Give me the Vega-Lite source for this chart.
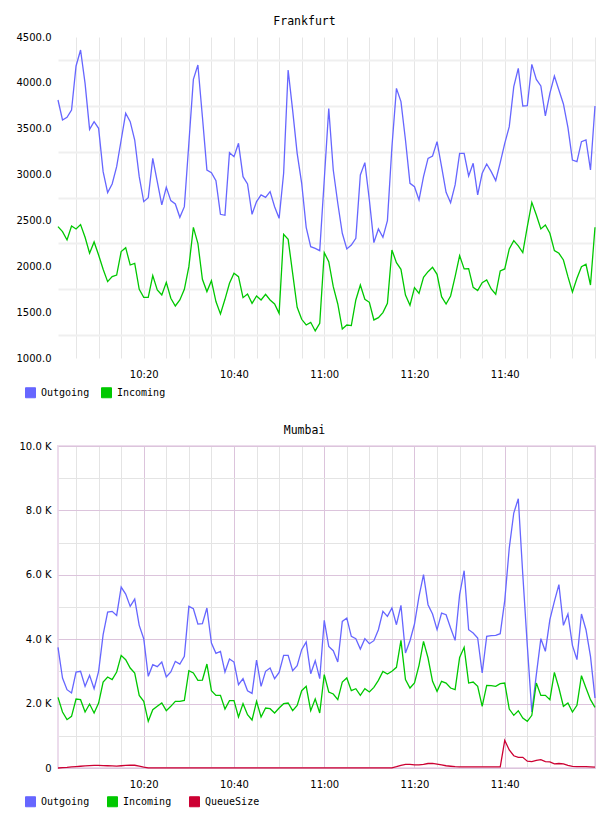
{
  "$schema": "https://vega.github.io/schema/vega-lite/v6.json",
  "background": "white",
  "padding": {"left": 7, "top": 15, "right": 14, "bottom": 0},
  "spacing": 23,
  "config": {
    "font": "DejaVu Sans",
    "view": {"stroke": null},
    "axis": {"labelFont": "DejaVu Sans", "labelFontSize": 10, "labelColor": "#000000", "domain": false, "ticks": false, "labelOverlap": false, "labelFlush": false},
    "title": {"font": "DejaVu Sans Mono", "fontSize": 11.5, "fontWeight": "normal", "color": "#000000", "anchor": "middle", "offset": 5, "dx": -22},
    "legend": {"symbolType": "square", "symbolSize": 100, "labelFont": "DejaVu Sans Mono", "labelFontSize": 10, "labelColor": "#000000", "labelOffset": 5, "columnPadding": 9, "gridAlign": "all", "padding": 0}
  },
  "resolve": {"scale": {"y": "independent", "color": "independent"}, "legend": {"color": "independent"}},
  "vconcat": [
    {
      "title": "Frankfurt",
      "width": 537,
      "height": 321,
      "data": {
        "values": [
          {"min": 1, "Outgoing": 3813, "Incoming": 2432},
          {"min": 2, "Outgoing": 3595, "Incoming": 2378},
          {"min": 3, "Outgoing": 3624, "Incoming": 2287},
          {"min": 4, "Outgoing": 3704, "Incoming": 2440},
          {"min": 5, "Outgoing": 4184, "Incoming": 2407},
          {"min": 6, "Outgoing": 4358, "Incoming": 2454},
          {"min": 7, "Outgoing": 3995, "Incoming": 2316},
          {"min": 8, "Outgoing": 3493, "Incoming": 2142},
          {"min": 9, "Outgoing": 3577, "Incoming": 2265},
          {"min": 10, "Outgoing": 3504, "Incoming": 2123},
          {"min": 11, "Outgoing": 3032, "Incoming": 1967},
          {"min": 12, "Outgoing": 2803, "Incoming": 1833},
          {"min": 13, "Outgoing": 2897, "Incoming": 1887},
          {"min": 14, "Outgoing": 3086, "Incoming": 1905},
          {"min": 15, "Outgoing": 3377, "Incoming": 2160},
          {"min": 16, "Outgoing": 3668, "Incoming": 2203},
          {"min": 17, "Outgoing": 3577, "Incoming": 2014},
          {"min": 18, "Outgoing": 3377, "Incoming": 2032},
          {"min": 19, "Outgoing": 2977, "Incoming": 1749},
          {"min": 20, "Outgoing": 2705, "Incoming": 1662},
          {"min": 21, "Outgoing": 2748, "Incoming": 1662},
          {"min": 22, "Outgoing": 3177, "Incoming": 1898},
          {"min": 23, "Outgoing": 2923, "Incoming": 1742},
          {"min": 24, "Outgoing": 2669, "Incoming": 1687},
          {"min": 25, "Outgoing": 2861, "Incoming": 1825},
          {"min": 26, "Outgoing": 2716, "Incoming": 1651},
          {"min": 27, "Outgoing": 2680, "Incoming": 1567},
          {"min": 28, "Outgoing": 2534, "Incoming": 1633},
          {"min": 29, "Outgoing": 2650, "Incoming": 1749},
          {"min": 30, "Outgoing": 3341, "Incoming": 1996},
          {"min": 31, "Outgoing": 4038, "Incoming": 2425},
          {"min": 32, "Outgoing": 4195, "Incoming": 2251},
          {"min": 33, "Outgoing": 3630, "Incoming": 1858},
          {"min": 34, "Outgoing": 3050, "Incoming": 1724},
          {"min": 35, "Outgoing": 3021, "Incoming": 1843},
          {"min": 36, "Outgoing": 2934, "Incoming": 1615},
          {"min": 37, "Outgoing": 2567, "Incoming": 1480},
          {"min": 38, "Outgoing": 2556, "Incoming": 1640},
          {"min": 39, "Outgoing": 3239, "Incoming": 1814},
          {"min": 40, "Outgoing": 3195, "Incoming": 1923},
          {"min": 41, "Outgoing": 3341, "Incoming": 1887},
          {"min": 42, "Outgoing": 2977, "Incoming": 1658},
          {"min": 43, "Outgoing": 2897, "Incoming": 1698},
          {"min": 44, "Outgoing": 2567, "Incoming": 1596},
          {"min": 45, "Outgoing": 2705, "Incoming": 1676},
          {"min": 46, "Outgoing": 2778, "Incoming": 1633},
          {"min": 47, "Outgoing": 2752, "Incoming": 1695},
          {"min": 48, "Outgoing": 2814, "Incoming": 1633},
          {"min": 49, "Outgoing": 2650, "Incoming": 1589},
          {"min": 50, "Outgoing": 2523, "Incoming": 1487},
          {"min": 51, "Outgoing": 3014, "Incoming": 2349},
          {"min": 52, "Outgoing": 4140, "Incoming": 2294},
          {"min": 53, "Outgoing": 3700, "Incoming": 1923},
          {"min": 54, "Outgoing": 3232, "Incoming": 1553},
          {"min": 55, "Outgoing": 2905, "Incoming": 1422},
          {"min": 56, "Outgoing": 2425, "Incoming": 1360},
          {"min": 57, "Outgoing": 2214, "Incoming": 1389},
          {"min": 58, "Outgoing": 2196, "Incoming": 1295},
          {"min": 59, "Outgoing": 2171, "Incoming": 1378},
          {"min": 60, "Outgoing": 2941, "Incoming": 2149},
          {"min": 61, "Outgoing": 3719, "Incoming": 2051},
          {"min": 62, "Outgoing": 3050, "Incoming": 1778},
          {"min": 63, "Outgoing": 2687, "Incoming": 1589},
          {"min": 64, "Outgoing": 2360, "Incoming": 1316},
          {"min": 65, "Outgoing": 2189, "Incoming": 1360},
          {"min": 66, "Outgoing": 2232, "Incoming": 1353},
          {"min": 67, "Outgoing": 2305, "Incoming": 1633},
          {"min": 68, "Outgoing": 2996, "Incoming": 1796},
          {"min": 69, "Outgoing": 3130, "Incoming": 1640},
          {"min": 70, "Outgoing": 2723, "Incoming": 1607},
          {"min": 71, "Outgoing": 2258, "Incoming": 1415},
          {"min": 72, "Outgoing": 2407, "Incoming": 1440},
          {"min": 73, "Outgoing": 2316, "Incoming": 1495},
          {"min": 74, "Outgoing": 2498, "Incoming": 1596},
          {"min": 75, "Outgoing": 3304, "Incoming": 2178},
          {"min": 76, "Outgoing": 3940, "Incoming": 2040},
          {"min": 77, "Outgoing": 3795, "Incoming": 1967},
          {"min": 78, "Outgoing": 3377, "Incoming": 1687},
          {"min": 79, "Outgoing": 2905, "Incoming": 1575},
          {"min": 80, "Outgoing": 2868, "Incoming": 1767},
          {"min": 81, "Outgoing": 2723, "Incoming": 1705},
          {"min": 82, "Outgoing": 2977, "Incoming": 1880},
          {"min": 83, "Outgoing": 3177, "Incoming": 1941},
          {"min": 84, "Outgoing": 3203, "Incoming": 1989},
          {"min": 85, "Outgoing": 3359, "Incoming": 1912},
          {"min": 86, "Outgoing": 3086, "Incoming": 1669},
          {"min": 87, "Outgoing": 2807, "Incoming": 1589},
          {"min": 88, "Outgoing": 2694, "Incoming": 1676},
          {"min": 89, "Outgoing": 2887, "Incoming": 1887},
          {"min": 90, "Outgoing": 3232, "Incoming": 2116},
          {"min": 91, "Outgoing": 3232, "Incoming": 1971},
          {"min": 92, "Outgoing": 2985, "Incoming": 1974},
          {"min": 93, "Outgoing": 3123, "Incoming": 1771},
          {"min": 94, "Outgoing": 2778, "Incoming": 1735},
          {"min": 95, "Outgoing": 3014, "Incoming": 1822},
          {"min": 96, "Outgoing": 3115, "Incoming": 1851},
          {"min": 97, "Outgoing": 3032, "Incoming": 1753},
          {"min": 98, "Outgoing": 2934, "Incoming": 1695},
          {"min": 99, "Outgoing": 3130, "Incoming": 1949},
          {"min": 100, "Outgoing": 3341, "Incoming": 1971},
          {"min": 101, "Outgoing": 3522, "Incoming": 2189},
          {"min": 102, "Outgoing": 3959, "Incoming": 2280},
          {"min": 103, "Outgoing": 4158, "Incoming": 2222},
          {"min": 104, "Outgoing": 3748, "Incoming": 2149},
          {"min": 105, "Outgoing": 3751, "Incoming": 2432},
          {"min": 106, "Outgoing": 4202, "Incoming": 2697},
          {"min": 107, "Outgoing": 4038, "Incoming": 2560},
          {"min": 108, "Outgoing": 3966, "Incoming": 2407},
          {"min": 109, "Outgoing": 3639, "Incoming": 2450},
          {"min": 110, "Outgoing": 3886, "Incoming": 2360},
          {"min": 111, "Outgoing": 4075, "Incoming": 2171},
          {"min": 112, "Outgoing": 3922, "Incoming": 2142},
          {"min": 113, "Outgoing": 3770, "Incoming": 2069},
          {"min": 114, "Outgoing": 3515, "Incoming": 1887},
          {"min": 115, "Outgoing": 3159, "Incoming": 1720},
          {"min": 116, "Outgoing": 3141, "Incoming": 1869},
          {"min": 117, "Outgoing": 3359, "Incoming": 1996},
          {"min": 118, "Outgoing": 3377, "Incoming": 2022},
          {"min": 119, "Outgoing": 3050, "Incoming": 1796},
          {"min": 120, "Outgoing": 3748, "Incoming": 2425}
        ]
      },
      "transform": [{"fold": ["Outgoing", "Incoming"], "as": ["series", "value"]}],
      "mark": {"type": "line", "strokeWidth": 1.3},
      "encoding": {
        "x": {
          "field": "min", "type": "quantitative", "title": null,
          "scale": {"domain": [1, 120], "nice": false, "zero": false},
          "axis": {
            "values": [5, 10, 15, 20, 25, 30, 35, 40, 45, 50, 55, 60, 65, 70, 75, 80, 85, 90, 95, 100, 105, 110, 115, 120],
            "labelExpr": "datum.value % 20 === 0 && datum.value < 120 ? (10 + floor(datum.value / 60)) + ':' + (datum.value % 60 === 0 ? '00' : '' + (datum.value % 60)) : ''",
            "labelPadding": 11,
            "gridColor": "#e6e6e6",
            "gridWidth": 1
          }
        },
        "y": {
          "field": "value", "type": "quantitative", "title": null,
          "scale": {"domain": [1000, 4500], "nice": false, "zero": false},
          "axis": {
            "values": [1000, 1250, 1500, 1750, 2000, 2250, 2500, 2750, 3000, 3250, 3500, 3750, 4000, 4250, 4500],
            "labelExpr": "datum.value % 500 === 0 ? format(datum.value, '.1f') : ''",
            "labelPadding": 7,
            "minExtent": 50,
            "maxExtent": 50,
            "gridColor": "#efefef",
            "gridWidth": 2,
            "gridOpacity": {"condition": {"test": "datum.value % 500 === 0", "value": 0}, "value": 1}
          }
        },
        "color": {
          "field": "series", "type": "nominal",
          "scale": {"domain": ["Outgoing", "Incoming"], "range": ["#6666ff", "#00c800"]},
          "legend": {
            "title": null, "orient": "none", "direction": "horizontal",
            "legendX": -33, "legendY": 350,
            "encode": {"symbols": {"update": {
              "fill": {"signal": "datum.value === 'Outgoing' ? '#6666ff' : '#00c800'"},
              "stroke": {"value": "#999999"},
              "strokeWidth": {"value": 1},
              "opacity": {"value": 1}
            }}}
          }
        }
      }
    },
    {
      "title": "Mumbai",
      "width": 537,
      "height": 322,
      "view": {"stroke": "#ecdcec", "strokeWidth": 2},
      "data": {
        "values": [
          {"min": 1, "Outgoing": 3747, "Incoming": 2194, "QueueSize": 0},
          {"min": 2, "Outgoing": 2795, "Incoming": 1739, "QueueSize": 10},
          {"min": 3, "Outgoing": 2432, "Incoming": 1501, "QueueSize": 20},
          {"min": 4, "Outgoing": 2329, "Incoming": 1604, "QueueSize": 35},
          {"min": 5, "Outgoing": 2981, "Incoming": 2142, "QueueSize": 45},
          {"min": 6, "Outgoing": 3002, "Incoming": 2122, "QueueSize": 55},
          {"min": 7, "Outgoing": 2536, "Incoming": 1739, "QueueSize": 65},
          {"min": 8, "Outgoing": 2877, "Incoming": 1987, "QueueSize": 75},
          {"min": 9, "Outgoing": 2463, "Incoming": 1708, "QueueSize": 80},
          {"min": 10, "Outgoing": 3002, "Incoming": 2018, "QueueSize": 80},
          {"min": 11, "Outgoing": 4140, "Incoming": 2670, "QueueSize": 75},
          {"min": 12, "Outgoing": 4844, "Incoming": 2826, "QueueSize": 70},
          {"min": 13, "Outgoing": 4865, "Incoming": 2743, "QueueSize": 65},
          {"min": 14, "Outgoing": 4740, "Incoming": 2981, "QueueSize": 60},
          {"min": 15, "Outgoing": 5620, "Incoming": 3498, "QueueSize": 70},
          {"min": 16, "Outgoing": 5403, "Incoming": 3364, "QueueSize": 80},
          {"min": 17, "Outgoing": 5020, "Incoming": 3105, "QueueSize": 90},
          {"min": 18, "Outgoing": 5247, "Incoming": 2950, "QueueSize": 85},
          {"min": 19, "Outgoing": 4430, "Incoming": 2256, "QueueSize": 60},
          {"min": 20, "Outgoing": 4016, "Incoming": 2070, "QueueSize": 30},
          {"min": 21, "Outgoing": 2846, "Incoming": 1449, "QueueSize": 5},
          {"min": 22, "Outgoing": 3209, "Incoming": 1811, "QueueSize": 3},
          {"min": 23, "Outgoing": 3146, "Incoming": 1915, "QueueSize": 3},
          {"min": 24, "Outgoing": 3291, "Incoming": 2018, "QueueSize": 3},
          {"min": 25, "Outgoing": 2826, "Incoming": 1780, "QueueSize": 3},
          {"min": 26, "Outgoing": 2981, "Incoming": 1915, "QueueSize": 3},
          {"min": 27, "Outgoing": 3312, "Incoming": 2070, "QueueSize": 3},
          {"min": 28, "Outgoing": 3229, "Incoming": 2070, "QueueSize": 3},
          {"min": 29, "Outgoing": 3467, "Incoming": 2101, "QueueSize": 3},
          {"min": 30, "Outgoing": 5020, "Incoming": 3022, "QueueSize": 3},
          {"min": 31, "Outgoing": 4947, "Incoming": 2950, "QueueSize": 3},
          {"min": 32, "Outgoing": 4471, "Incoming": 2722, "QueueSize": 3},
          {"min": 33, "Outgoing": 4482, "Incoming": 2732, "QueueSize": 3},
          {"min": 34, "Outgoing": 4968, "Incoming": 3229, "QueueSize": 3},
          {"min": 35, "Outgoing": 3881, "Incoming": 2401, "QueueSize": 3},
          {"min": 36, "Outgoing": 3560, "Incoming": 2256, "QueueSize": 3},
          {"min": 37, "Outgoing": 3623, "Incoming": 2256, "QueueSize": 3},
          {"min": 38, "Outgoing": 2981, "Incoming": 1832, "QueueSize": 3},
          {"min": 39, "Outgoing": 3384, "Incoming": 2091, "QueueSize": 3},
          {"min": 40, "Outgoing": 3291, "Incoming": 2091, "QueueSize": 3},
          {"min": 41, "Outgoing": 2588, "Incoming": 1584, "QueueSize": 3},
          {"min": 42, "Outgoing": 2774, "Incoming": 1998, "QueueSize": 3},
          {"min": 43, "Outgoing": 2401, "Incoming": 1656, "QueueSize": 3},
          {"min": 44, "Outgoing": 2318, "Incoming": 1490, "QueueSize": 3},
          {"min": 45, "Outgoing": 3353, "Incoming": 2070, "QueueSize": 3},
          {"min": 46, "Outgoing": 2536, "Incoming": 1584, "QueueSize": 3},
          {"min": 47, "Outgoing": 3002, "Incoming": 1863, "QueueSize": 3},
          {"min": 48, "Outgoing": 3105, "Incoming": 1842, "QueueSize": 3},
          {"min": 49, "Outgoing": 2774, "Incoming": 1708, "QueueSize": 3},
          {"min": 50, "Outgoing": 2970, "Incoming": 1863, "QueueSize": 3},
          {"min": 51, "Outgoing": 3498, "Incoming": 1998, "QueueSize": 3},
          {"min": 52, "Outgoing": 3498, "Incoming": 2018, "QueueSize": 3},
          {"min": 53, "Outgoing": 3022, "Incoming": 1780, "QueueSize": 3},
          {"min": 54, "Outgoing": 3177, "Incoming": 1946, "QueueSize": 3},
          {"min": 55, "Outgoing": 3674, "Incoming": 2401, "QueueSize": 3},
          {"min": 56, "Outgoing": 3912, "Incoming": 2536, "QueueSize": 3},
          {"min": 57, "Outgoing": 2929, "Incoming": 1780, "QueueSize": 3},
          {"min": 58, "Outgoing": 3333, "Incoming": 2142, "QueueSize": 3},
          {"min": 59, "Outgoing": 2774, "Incoming": 1708, "QueueSize": 3},
          {"min": 60, "Outgoing": 4585, "Incoming": 2898, "QueueSize": 3},
          {"min": 61, "Outgoing": 3778, "Incoming": 2360, "QueueSize": 3},
          {"min": 62, "Outgoing": 3643, "Incoming": 2298, "QueueSize": 3},
          {"min": 63, "Outgoing": 3291, "Incoming": 2122, "QueueSize": 3},
          {"min": 64, "Outgoing": 4554, "Incoming": 2670, "QueueSize": 3},
          {"min": 65, "Outgoing": 4657, "Incoming": 2795, "QueueSize": 3},
          {"min": 66, "Outgoing": 4088, "Incoming": 2401, "QueueSize": 3},
          {"min": 67, "Outgoing": 4016, "Incoming": 2463, "QueueSize": 3},
          {"min": 68, "Outgoing": 3695, "Incoming": 2256, "QueueSize": 3},
          {"min": 69, "Outgoing": 4016, "Incoming": 2463, "QueueSize": 3},
          {"min": 70, "Outgoing": 3860, "Incoming": 2360, "QueueSize": 3},
          {"min": 71, "Outgoing": 3954, "Incoming": 2505, "QueueSize": 3},
          {"min": 72, "Outgoing": 4295, "Incoming": 2722, "QueueSize": 3},
          {"min": 73, "Outgoing": 4865, "Incoming": 3002, "QueueSize": 3},
          {"min": 74, "Outgoing": 4709, "Incoming": 2919, "QueueSize": 3},
          {"min": 75, "Outgoing": 4968, "Incoming": 3002, "QueueSize": 5},
          {"min": 76, "Outgoing": 4450, "Incoming": 3126, "QueueSize": 40},
          {"min": 77, "Outgoing": 5051, "Incoming": 3964, "QueueSize": 80},
          {"min": 78, "Outgoing": 3570, "Incoming": 2743, "QueueSize": 110},
          {"min": 79, "Outgoing": 3954, "Incoming": 2484, "QueueSize": 110},
          {"min": 80, "Outgoing": 4471, "Incoming": 2639, "QueueSize": 100},
          {"min": 81, "Outgoing": 5330, "Incoming": 3188, "QueueSize": 95},
          {"min": 82, "Outgoing": 6003, "Incoming": 3933, "QueueSize": 110},
          {"min": 83, "Outgoing": 5071, "Incoming": 3416, "QueueSize": 140},
          {"min": 84, "Outgoing": 4782, "Incoming": 2691, "QueueSize": 145},
          {"min": 85, "Outgoing": 4295, "Incoming": 2381, "QueueSize": 120},
          {"min": 86, "Outgoing": 4813, "Incoming": 2691, "QueueSize": 95},
          {"min": 87, "Outgoing": 4761, "Incoming": 2639, "QueueSize": 70},
          {"min": 88, "Outgoing": 4347, "Incoming": 2484, "QueueSize": 55},
          {"min": 89, "Outgoing": 3964, "Incoming": 2432, "QueueSize": 40},
          {"min": 90, "Outgoing": 5382, "Incoming": 3436, "QueueSize": 35},
          {"min": 91, "Outgoing": 6127, "Incoming": 3747, "QueueSize": 35},
          {"min": 92, "Outgoing": 4295, "Incoming": 2639, "QueueSize": 35},
          {"min": 93, "Outgoing": 4192, "Incoming": 2670, "QueueSize": 35},
          {"min": 94, "Outgoing": 4037, "Incoming": 2536, "QueueSize": 35},
          {"min": 95, "Outgoing": 2950, "Incoming": 1915, "QueueSize": 35},
          {"min": 96, "Outgoing": 4088, "Incoming": 2567, "QueueSize": 35},
          {"min": 97, "Outgoing": 4109, "Incoming": 2556, "QueueSize": 35},
          {"min": 98, "Outgoing": 4119, "Incoming": 2536, "QueueSize": 35},
          {"min": 99, "Outgoing": 4171, "Incoming": 2619, "QueueSize": 35},
          {"min": 100, "Outgoing": 5200, "Incoming": 2639, "QueueSize": 860},
          {"min": 101, "Outgoing": 6831, "Incoming": 1832, "QueueSize": 560},
          {"min": 102, "Outgoing": 7918, "Incoming": 1635, "QueueSize": 380},
          {"min": 103, "Outgoing": 8363, "Incoming": 1780, "QueueSize": 330},
          {"min": 104, "Outgoing": 6000, "Incoming": 1553, "QueueSize": 330},
          {"min": 105, "Outgoing": 3800, "Incoming": 1449, "QueueSize": 210},
          {"min": 106, "Outgoing": 1739, "Incoming": 1635, "QueueSize": 200},
          {"min": 107, "Outgoing": 2898, "Incoming": 2639, "QueueSize": 240},
          {"min": 108, "Outgoing": 4016, "Incoming": 2256, "QueueSize": 260},
          {"min": 109, "Outgoing": 3623, "Incoming": 2256, "QueueSize": 200},
          {"min": 110, "Outgoing": 4606, "Incoming": 2122, "QueueSize": 190},
          {"min": 111, "Outgoing": 5175, "Incoming": 2970, "QueueSize": 130},
          {"min": 112, "Outgoing": 5693, "Incoming": 2484, "QueueSize": 140},
          {"min": 113, "Outgoing": 4430, "Incoming": 1915, "QueueSize": 130},
          {"min": 114, "Outgoing": 4782, "Incoming": 2018, "QueueSize": 80},
          {"min": 115, "Outgoing": 3809, "Incoming": 1739, "QueueSize": 50},
          {"min": 116, "Outgoing": 3364, "Incoming": 1946, "QueueSize": 40},
          {"min": 117, "Outgoing": 4782, "Incoming": 2867, "QueueSize": 40},
          {"min": 118, "Outgoing": 4295, "Incoming": 2484, "QueueSize": 40},
          {"min": 119, "Outgoing": 3467, "Incoming": 2122, "QueueSize": 35},
          {"min": 120, "Outgoing": 2174, "Incoming": 1884, "QueueSize": 30}
        ]
      },
      "transform": [{"fold": ["Outgoing", "Incoming", "QueueSize"], "as": ["series", "value"]}],
      "mark": {"type": "line", "strokeWidth": 1.3},
      "encoding": {
        "x": {
          "field": "min", "type": "quantitative", "title": null,
          "scale": {"domain": [1, 120], "nice": false, "zero": false},
          "axis": {
            "values": [5, 10, 15, 20, 25, 30, 35, 40, 45, 50, 55, 60, 65, 70, 75, 80, 85, 90, 95, 100, 105, 110, 115, 120],
            "labelExpr": "datum.value % 20 === 0 && datum.value < 120 ? (10 + floor(datum.value / 60)) + ':' + (datum.value % 60 === 0 ? '00' : '' + (datum.value % 60)) : ''",
            "labelPadding": 11,
            "gridColor": {"condition": {"test": "datum.value % 20 === 0", "value": "#dcc4dc"}, "value": "#e4e4e4"},
            "gridWidth": 1
          }
        },
        "y": {
          "field": "value", "type": "quantitative", "title": null,
          "scale": {"domain": [0, 10000], "nice": false},
          "axis": {
            "values": [0, 1000, 2000, 3000, 4000, 5000, 6000, 7000, 8000, 9000, 10000],
            "labelExpr": "datum.value % 2000 !== 0 ? '' : datum.value === 0 ? '0' : format(datum.value / 1000, '.1f') + ' K'",
            "labelPadding": 7,
            "minExtent": 50,
            "maxExtent": 50,
            "gridColor": {"condition": {"test": "datum.value % 2000 === 0", "value": "#dcc4dc"}, "value": "#e4e4e4"},
            "gridWidth": 1
          }
        },
        "color": {
          "field": "series", "type": "nominal",
          "scale": {"domain": ["Outgoing", "Incoming", "QueueSize"], "range": ["#6666ff", "#00c800", "#cc0033"]},
          "legend": {
            "title": null, "orient": "none", "direction": "horizontal",
            "legendX": -33, "legendY": 350,
            "encode": {"symbols": {"update": {
              "fill": {"signal": "datum.value === 'Outgoing' ? '#6666ff' : datum.value === 'Incoming' ? '#00c800' : '#cc0033'"},
              "stroke": {"value": "#999999"},
              "strokeWidth": {"value": 1},
              "opacity": {"value": 1}
            }}}
          }
        }
      }
    }
  ]
}
